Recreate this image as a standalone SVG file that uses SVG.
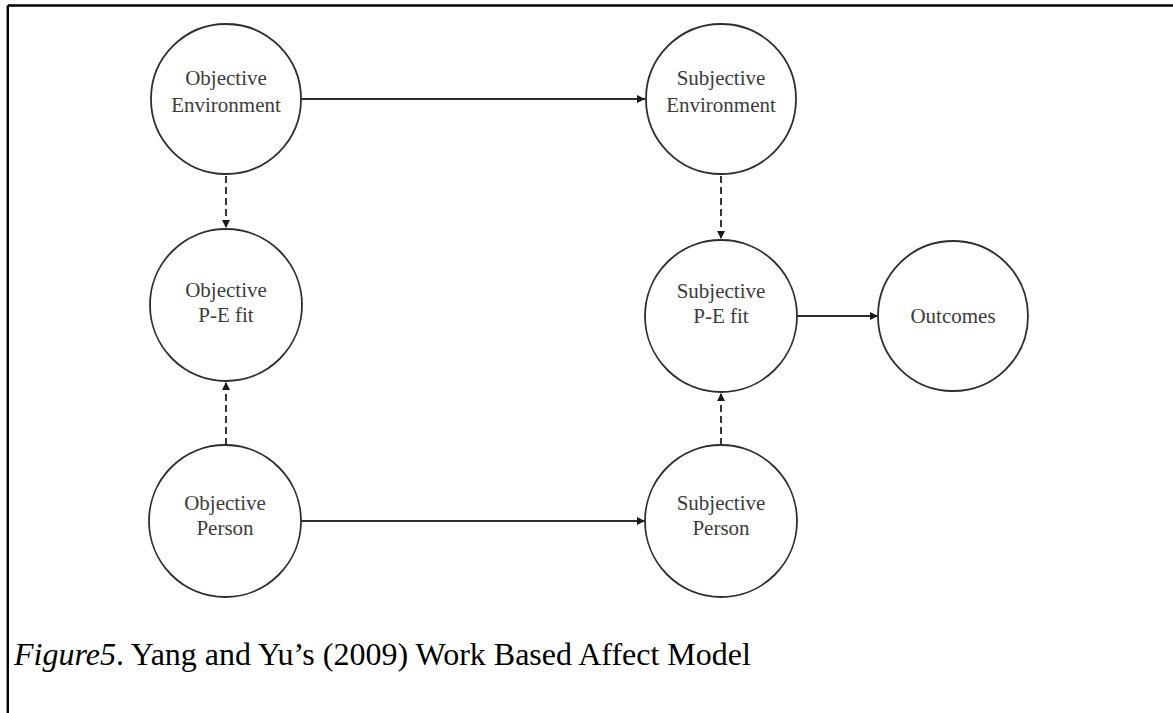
<svg xmlns="http://www.w3.org/2000/svg" width="1173" height="713" viewBox="0 0 1173 713">
  <defs>
    <style>
      .node circle { fill: #ffffff; stroke: #2e2e2e; stroke-width: 1.8; }
      .node text { font-family: "Liberation Serif", "Times New Roman", serif; font-size: 21px; fill: #3c3c3c; text-anchor: middle; }
      .edge { stroke: #2e2e2e; stroke-width: 1.9; fill: none; }
      .solid { marker-end: url(#head); }
      .dashed { stroke-dasharray: 7 4; marker-end: url(#head); }
      .frame { stroke: #000000; stroke-width: 2.4; fill: none; }
      .caption { font-family: "Liberation Serif", "Times New Roman", serif; font-size: 32px; fill: #000000; }
    </style>
    <marker id="head" viewBox="0 0 10 10" refX="10" refY="5" markerWidth="9" markerHeight="8" markerUnits="userSpaceOnUse" orient="auto">
      <path d="M0,0 L10,5 L0,10 Z" fill="#1a1a1a"/>
    </marker>
  </defs>

  <rect width="1173" height="713" fill="#ffffff"/>

  <!-- page frame: top rule and left rule -->
  <line class="frame" x1="7.8" y1="5.5" x2="1173" y2="5.5"/>
  <line class="frame" x1="7.8" y1="5.5" x2="7.8" y2="713"/>

  <!-- connectors -->
  <g id="connectors">
    <line class="edge solid" x1="300" y1="99" x2="645" y2="99"/>
    <line class="edge solid" x1="299" y1="521" x2="645" y2="521"/>
    <line class="edge solid" x1="796" y1="316" x2="878" y2="316"/>
    <line class="edge dashed" x1="226" y1="176" x2="226" y2="228"/>
    <line class="edge dashed" x1="226" y1="445" x2="226" y2="382"/>
    <line class="edge dashed" x1="721" y1="176" x2="721" y2="239"/>
    <line class="edge dashed" x1="721" y1="445" x2="721" y2="393"/>
  </g>

  <g id="objective-environment" class="node">
    <circle cx="226" cy="99" r="75"/>
    <text x="226" y="85">Objective</text>
    <text x="226" y="112">Environment</text>
  </g>

  <g id="subjective-environment" class="node">
    <circle cx="721" cy="99" r="75"/>
    <text x="721" y="85">Subjective</text>
    <text x="721" y="112">Environment</text>
  </g>

  <g id="objective-pe-fit" class="node">
    <circle cx="226" cy="305" r="76"/>
    <text x="226" y="297">Objective</text>
    <text x="226" y="322">P-E fit</text>
  </g>

  <g id="subjective-pe-fit" class="node">
    <circle cx="721" cy="316" r="76"/>
    <text x="721" y="298">Subjective</text>
    <text x="721" y="323">P-E fit</text>
  </g>

  <g id="outcomes" class="node">
    <circle cx="953" cy="316" r="75"/>
    <text x="953" y="323">Outcomes</text>
  </g>

  <g id="objective-person" class="node">
    <circle cx="225" cy="521" r="76"/>
    <text x="225" y="510">Objective</text>
    <text x="225" y="535">Person</text>
  </g>

  <g id="subjective-person" class="node">
    <circle cx="721" cy="521" r="76"/>
    <text x="721" y="510">Subjective</text>
    <text x="721" y="535">Person</text>
  </g>

  <text class="caption" x="14" y="665"><tspan font-style="italic">Figure5</tspan>. Yang and Yu’s (2009) Work Based Affect Model</text>
</svg>
